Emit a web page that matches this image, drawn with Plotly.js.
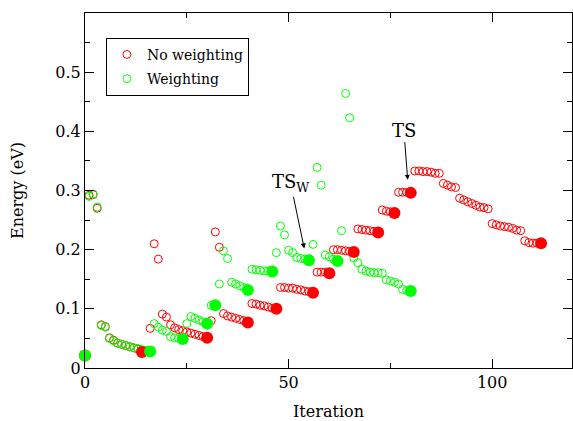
<!DOCTYPE html>
<html><head><meta charset="utf-8">
<script src="https://cdn.plot.ly/plotly-3.0.1.min.js"></script>
<style>html,body{margin:0;padding:0;background:#fff}#chart{width:573px;height:421px}</style>
</head><body><div id="chart"></div>
<script>
// No weighting (red) – open circles
const redIter = [1,2,3,4,5,6,7,8,9,10,11,12,13,
  16,17,18,19,20,21,22,23,24,25,26,27,28,29,
  31,32,33,34,35,36,37,38,39,
  41,42,43,44,45,46,
  48,49,50,51,52,53,54,55,
  57,58,59,
  61,62,63,64,65,
  67,68,69,70,71,
  73,74,75,
  77,78,79,
  81,82,83,84,85,86,87,88,89,90,91,92,93,94,95,96,97,98,99,
  100,101,102,103,104,105,106,107,108,109,110,111];
const redEnergy = [0.292,0.293,0.270,0.073,0.070,0.051,0.047,0.042,0.040,0.038,0.036,0.034,0.032,
  0.067,0.210,0.184,0.091,0.086,0.073,0.068,0.065,0.063,0.061,0.059,0.057,0.055,0.053,
  0.080,0.230,0.204,0.092,0.088,0.086,0.084,0.082,0.080,
  0.109,0.108,0.106,0.105,0.103,0.101,
  0.136,0.136,0.135,0.135,0.133,0.132,0.130,0.129,
  0.162,0.162,0.162,
  0.200,0.200,0.199,0.198,0.197,
  0.235,0.234,0.233,0.232,0.231,
  0.267,0.265,0.264,
  0.297,0.297,0.297,
  0.333,0.333,0.332,0.332,0.331,0.329,0.329,0.312,0.309,0.306,0.305,0.287,0.284,0.281,0.278,0.275,0.272,0.271,0.269,
  0.244,0.242,0.240,0.239,0.238,0.236,0.233,0.232,0.215,0.212,0.211,0.211];
// No weighting – converged points (filled)
const redConvIter = [0,14,30,40,47,56,60,66,72,76,80,112];
const redConvEnergy = [0.021,0.027,0.051,0.077,0.100,0.127,0.160,0.196,0.229,0.262,0.296,0.211];

// Weighting (green) – open circles
const greenIter = [1,2,3,4,5,6,7,8,9,10,11,12,13,14,15,
  17,18,19,20,21,22,23,
  25,26,27,28,29,
  31,33,34,35,36,37,38,39,
  41,42,43,44,45,
  47,48,49,50,51,52,53,54,
  56,57,58,59,60,61,
  63,64,65,66,67,68,69,70,71,72,73,74,75,76,77,78,79];
const greenEnergy = [0.290,0.294,0.272,0.072,0.069,0.050,0.046,0.042,0.040,0.038,0.036,0.034,0.033,0.031,0.030,
  0.075,0.069,0.064,0.062,0.053,0.051,0.050,
  0.075,0.087,0.084,0.081,0.078,
  0.106,0.142,0.198,0.185,0.145,0.142,0.139,0.136,
  0.167,0.166,0.165,0.164,0.164,
  0.195,0.240,0.225,0.199,0.195,0.187,0.185,0.184,
  0.209,0.339,0.309,0.191,0.188,0.184,
  0.232,0.464,0.423,0.186,0.178,0.167,0.164,0.162,0.161,0.161,0.160,0.149,0.147,0.145,0.142,0.133,0.131];
// Weighting – converged points (filled)
const greenConvIter = [0,16,24,30,32,40,46,55,62,80];
const greenConvEnergy = [0.021,0.028,0.049,0.075,0.106,0.132,0.163,0.182,0.181,0.130];

const xTicks = [0,50,100];
const yTicks = [0,0.1,0.2,0.3,0.4,0.5];
const yTickText = ['0','0.1','0.2','0.3','0.4','0.5'];

const RED = '#ff0000', GREEN = '#00ff00';
const FONT = '"DejaVu Serif", serif';

const traces = [
  {x: redIter, y: redEnergy, type:'scatter', mode:'markers', name:'No weighting', legendgroup:'a',
   cliponaxis:false, marker:{symbol:'circle-open', size:8, color:RED, line:{width:1, color:RED}}},
  {x: greenIter, y: greenEnergy, type:'scatter', mode:'markers', name:'Weighting', legendgroup:'b',
   cliponaxis:false, marker:{symbol:'circle-open', size:8, color:GREEN, line:{width:1, color:GREEN}}},
  {x: redConvIter, y: redConvEnergy, type:'scatter', mode:'markers', showlegend:false,
   cliponaxis:false, marker:{symbol:'circle', size:12, color:RED}},
  {x: greenConvIter, y: greenConvEnergy, type:'scatter', mode:'markers', showlegend:false,
   cliponaxis:false, marker:{symbol:'circle', size:12, color:GREEN}}
];

const axisCommon = {
  ticks:'inside', ticklen:9, tickwidth:1, tickcolor:'#000',
  showline:true, linecolor:'#000', linewidth:1, mirror:'ticks',
  showgrid:false, zeroline:false, automargin:false,
  tickfont:{family:FONT, size:16, color:'#000'}
};

const layout = {
  width:573, height:421,
  margin:{l:85, r:1, t:13, b:53},
  paper_bgcolor:'#fff', plot_bgcolor:'#fff',
  font:{family:FONT, size:15, color:'#000'},
  showlegend:true,
  legend:{x:0.043, y:0.93, xanchor:'left', yanchor:'top', bordercolor:'#000', borderwidth:1,
          bgcolor:'#fff', font:{family:FONT, size:14, color:'#000'},
          traceorder:'grouped', tracegroupgap:3},
  xaxis: Object.assign({}, axisCommon, {
    range:[0,119.6], tickmode:'array', tickvals:xTicks,
    minor:{tick0:0, dtick:25, ticks:'inside', ticklen:5, tickcolor:'#000'},
    title:{text:'Iteration', font:{family:FONT, size:16, color:'#000'}, standoff:14}
  }),
  yaxis: Object.assign({}, axisCommon, {
    range:[0,0.6], tickmode:'array', tickvals:yTicks, ticktext:yTickText,
    minor:{tick0:0, dtick:0.05, ticks:'inside', ticklen:5, tickcolor:'#000'},
    title:{text:'Energy (eV)', font:{family:FONT, size:16, color:'#000'}, standoff:27}
  }),
  annotations:[
    {x:79.25, y:0.318, ax:78.3, ay:0.402, axref:'x', ayref:'y', xref:'x', yref:'y',
     text:'TS', showarrow:true, arrowhead:2, arrowsize:1, arrowwidth:1, arrowcolor:'#000',
     font:{family:FONT, size:18, color:'#000'}},
    {x:53.85, y:0.202, ax:50.5, ay:0.312, axref:'x', ayref:'y', xref:'x', yref:'y',
     text:'TS<sub>W</sub>', showarrow:true, arrowhead:2, arrowsize:1, arrowwidth:1, arrowcolor:'#000',
     font:{family:FONT, size:18, color:'#000'}}
  ]
};

Plotly.newPlot('chart', traces, layout, {staticPlot:true, displayModeBar:false});
</script>
</body></html>
